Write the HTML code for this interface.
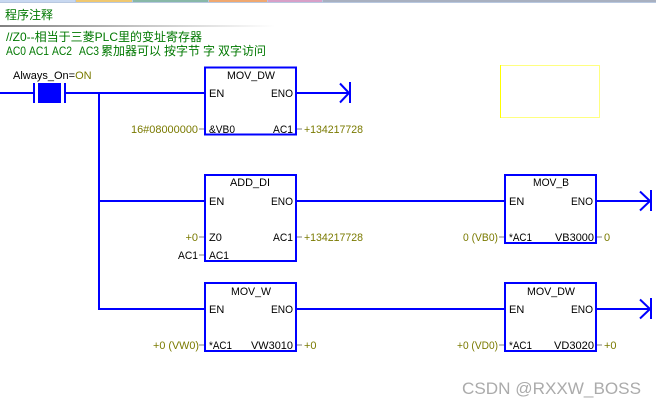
<!DOCTYPE html>
<html>
<head>
<meta charset="utf-8">
<style>
html,body{margin:0;padding:0;background:#fff;width:656px;height:408px;overflow:hidden}
svg{display:block}
text{font-family:"Liberation Sans","WenQuanYi Zen Hei","Noto Sans CJK SC",sans-serif;font-size:11px;fill:#000}
.o{fill:#7a7a00}
.g{fill:#007800}
.c{font-size:12px}
.m{text-anchor:middle}
.e{text-anchor:end}
</style>
</head>
<body>
<svg width="656" height="408" viewBox="0 0 656 408" xmlns="http://www.w3.org/2000/svg">
<defs>
<linearGradient id="gr" x1="0" x2="1" y1="0" y2="0">
<stop offset="0" stop-color="#808080"/><stop offset="0.5" stop-color="#c4c4c4"/><stop offset="1" stop-color="#ffffff"/>
</linearGradient>
</defs>
<rect x="0" y="0" width="656" height="3" fill="#b8c8e0"/>
<rect x="0" y="0" width="75" height="2" fill="#c8d8f0"/>
<rect x="76" y="0" width="56" height="2" fill="#f0c870"/>
<rect x="133" y="0" width="75" height="2" fill="#88b8a8"/>
<rect x="209" y="0" width="58" height="2" fill="#f0a870"/>
<rect x="268" y="0" width="54" height="2" fill="#d8a0c8"/>
<rect x="323" y="0" width="333" height="2" fill="#a8b0c0"/>
<rect x="0" y="25" width="275" height="2" fill="url(#gr)"/>

<text class="g c" x="5" y="19">程序注释</text>
<text class="g c" x="6" y="41">//Z0--相当于三菱PLC里的变址寄存器</text>
<text class="g c" x="6" y="55" textLength="20" lengthAdjust="spacingAndGlyphs">AC0</text>
<text class="g c" x="29" y="55" textLength="20" lengthAdjust="spacingAndGlyphs">AC1</text>
<text class="g c" x="52" y="55" textLength="20" lengthAdjust="spacingAndGlyphs">AC2</text>
<text class="g c" x="79" y="55" textLength="20" lengthAdjust="spacingAndGlyphs">AC3</text>
<text class="g c" x="101" y="55">累加器可以</text>
<text class="g c" x="164" y="55">按字节</text>
<text class="g c" x="203" y="55">字</text>
<text class="g c" x="218" y="55">双字访问</text>

<text x="13" y="79">Always_On=<tspan class="o">ON</tspan></text>

<g fill="#0000ff">
<rect x="0" y="92" width="34" height="2"/>
<rect x="33" y="83" width="2" height="20"/>
<rect x="38" y="83" width="23" height="20"/>
<rect x="64" y="83" width="2" height="20"/>
<rect x="65" y="92" width="140" height="2"/>
<rect x="98" y="93" width="2" height="217"/>
<rect x="98" y="200" width="107" height="2"/>
<rect x="98" y="308" width="107" height="2"/>
<rect x="296" y="92" width="54" height="2"/>
<rect x="296" y="200" width="209" height="2"/>
<rect x="296" y="308" width="209" height="2"/>
<rect x="596" y="200" width="56" height="2"/>
<rect x="596" y="308" width="56" height="2"/>
<rect x="349" y="82" width="2" height="21"/>
<rect x="650" y="190" width="2" height="21"/>
<rect x="650" y="298" width="2" height="21"/>
</g>
<g fill="none" stroke="#0000ff" stroke-width="2">
<path d="M340 83.500L349 93L340 102.500"/>
<path d="M640 191.500L650 201L640 210.500"/>
<path d="M640 299.500L650 309L640 318.500"/>
<rect x="205" y="67.500" width="91" height="67"/>
<rect x="205" y="175" width="91" height="86"/>
<rect x="205" y="283" width="91" height="68"/>
<rect x="505" y="175" width="91" height="68"/>
<rect x="505" y="283" width="91" height="68"/>
</g>

<rect x="500.500" y="65.500" width="99" height="52" fill="none" stroke="#ffff00" stroke-width="1" stroke-dasharray="1 1"/>
<rect x="500" y="65" width="1" height="53" fill="#ffff00"/>

<g fill="#c0c0c0">
<rect x="199" y="128" width="5" height="2"/>
<rect x="297" y="128" width="5" height="2"/>
<rect x="199" y="236" width="5" height="2"/>
<rect x="199" y="254" width="5" height="2"/>
<rect x="297" y="236" width="5" height="2"/>
<rect x="199" y="344" width="5" height="2"/>
<rect x="297" y="344" width="5" height="2"/>
<rect x="499" y="236" width="5" height="2"/>
<rect x="597" y="236" width="5" height="2"/>
<rect x="499" y="344" width="5" height="2"/>
<rect x="597" y="344" width="5" height="2"/>
</g>

<!-- box 1 -->
<text class="m" x="251" y="79" textLength="48" lengthAdjust="spacingAndGlyphs">MOV_DW</text>
<text x="209" y="97">EN</text>
<text x="271" y="97" textLength="22" lengthAdjust="spacingAndGlyphs">ENO</text>
<text x="209" y="133" textLength="26" lengthAdjust="spacingAndGlyphs">&amp;VB0</text>
<text x="273" y="133" textLength="20" lengthAdjust="spacingAndGlyphs">AC1</text>
<text class="o" x="131" y="133" textLength="67" lengthAdjust="spacingAndGlyphs">16#08000000</text>
<text class="o" x="304" y="133" textLength="59" lengthAdjust="spacingAndGlyphs">+134217728</text>

<!-- box 2 -->
<text class="m" x="250" y="186" textLength="40" lengthAdjust="spacingAndGlyphs">ADD_DI</text>
<text x="209" y="205">EN</text>
<text x="271" y="205" textLength="22" lengthAdjust="spacingAndGlyphs">ENO</text>
<text x="209" y="241">Z0</text>
<text x="273" y="241" textLength="20" lengthAdjust="spacingAndGlyphs">AC1</text>
<text x="209" y="259" textLength="20" lengthAdjust="spacingAndGlyphs">AC1</text>
<text class="o e" x="198" y="241">+0</text>
<text x="178" y="259" textLength="20" lengthAdjust="spacingAndGlyphs">AC1</text>
<text class="o" x="304" y="241" textLength="59" lengthAdjust="spacingAndGlyphs">+134217728</text>

<!-- box 3 -->
<text class="m" x="251" y="295" textLength="40" lengthAdjust="spacingAndGlyphs">MOV_W</text>
<text x="209" y="313">EN</text>
<text x="271" y="313" textLength="22" lengthAdjust="spacingAndGlyphs">ENO</text>
<text x="209" y="349" textLength="23" lengthAdjust="spacingAndGlyphs">*AC1</text>
<text x="251" y="349" textLength="42" lengthAdjust="spacingAndGlyphs">VW3010</text>
<text class="o" x="153" y="349" textLength="46" lengthAdjust="spacingAndGlyphs">+0 (VW0)</text>
<text class="o" x="304" y="349">+0</text>

<!-- box 4 -->
<text class="m" x="551" y="186" textLength="36" lengthAdjust="spacingAndGlyphs">MOV_B</text>
<text x="509" y="205">EN</text>
<text x="571" y="205" textLength="22" lengthAdjust="spacingAndGlyphs">ENO</text>
<text x="509" y="241" textLength="23" lengthAdjust="spacingAndGlyphs">*AC1</text>
<text x="555" y="241" textLength="39" lengthAdjust="spacingAndGlyphs">VB3000</text>
<text class="o" x="463" y="241" textLength="35" lengthAdjust="spacingAndGlyphs">0 (VB0)</text>
<text class="o" x="604" y="241">0</text>

<!-- box 5 -->
<text class="m" x="551" y="295" textLength="48" lengthAdjust="spacingAndGlyphs">MOV_DW</text>
<text x="509" y="313">EN</text>
<text x="571" y="313" textLength="22" lengthAdjust="spacingAndGlyphs">ENO</text>
<text x="509" y="349" textLength="23" lengthAdjust="spacingAndGlyphs">*AC1</text>
<text x="554" y="349" textLength="40" lengthAdjust="spacingAndGlyphs">VD3020</text>
<text class="o" x="457" y="349" textLength="41" lengthAdjust="spacingAndGlyphs">+0 (VD0)</text>
<text class="o" x="604" y="349">+0</text>

<text x="462" y="394" textLength="179" lengthAdjust="spacingAndGlyphs" style="font-size:17px;fill:#ababab">CSDN @RXXW_BOSS</text>
</svg>
</body>
</html>
